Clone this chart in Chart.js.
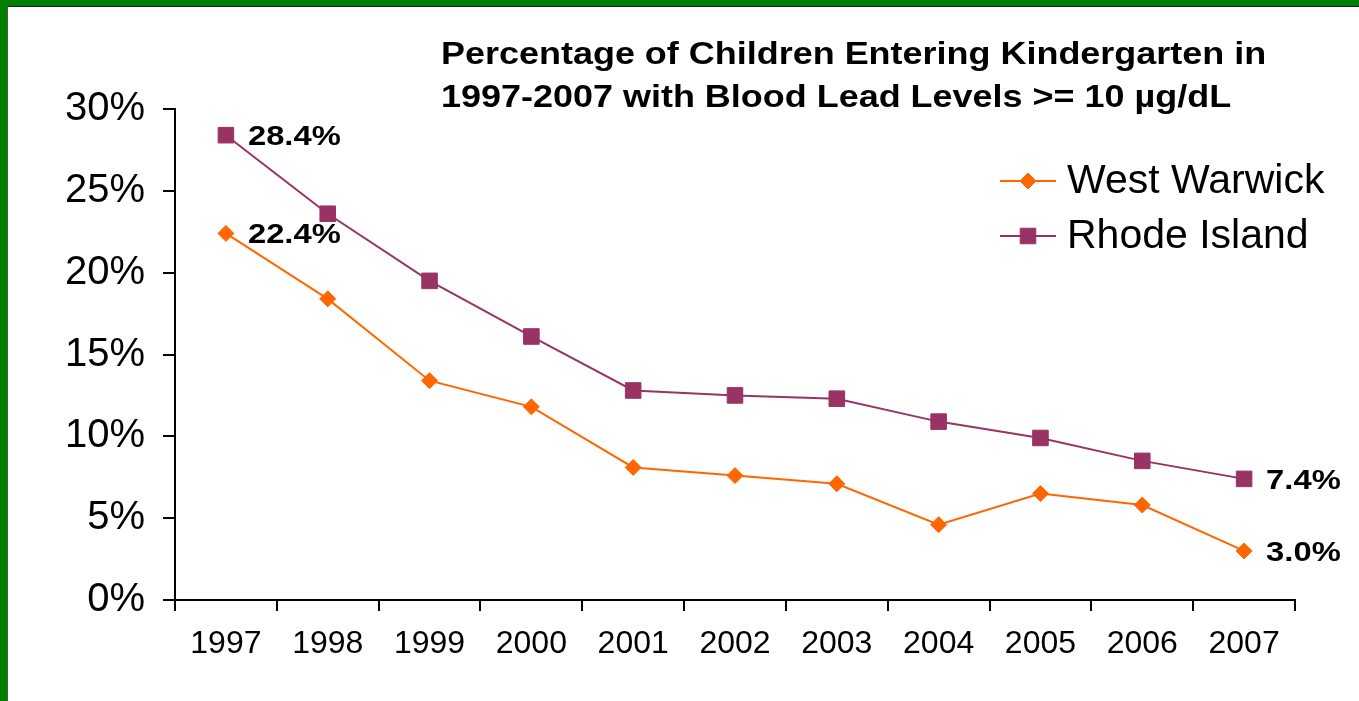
<!DOCTYPE html>
<html>
<head>
<meta charset="utf-8">
<script src="https://cdn.jsdelivr.net/npm/chart.js@4/dist/chart.umd.min.js"></script>
<style>
  html, body { margin: 0; padding: 0; background: #fff; overflow: hidden; }
  #frame {
    position: absolute; left: 0; top: 0; width: 1359px; height: 701px; box-sizing: border-box;
    border-top: 6px solid #008000; border-left: 7px solid #008000;
  }
  #inner { width: 100%; height: 100%; box-sizing: border-box; border-top: 1px solid #222; border-left: 1px solid #555; }
  #wrap { position: absolute; left: 0; top: 0; width: 1359px; height: 701px; }
</style>
</head>
<body>
<div id="frame"><div id="inner"></div></div>
<div id="wrap"><canvas id="leadChart" width="1359" height="701"></canvas></div>
<script>
const years = ['1997', '1998', '1999', '2000', '2001', '2002', '2003', '2004', '2005', '2006', '2007']
const westWarwick = [22.4, 18.4, 13.4, 11.8, 8.1, 7.6, 7.1, 4.6, 6.5, 5.8, 3.0]
const rhodeIsland = [28.4, 23.6, 19.5, 16.1, 12.8, 12.5, 12.3, 10.9, 9.9, 8.5, 7.4]
const titleLines = ['Percentage of Children Entering Kindergarten in', '1997-2007 with Blood Lead Levels >= 10 \u00b5g/dL']
const yTicks = [0, 5, 10, 15, 20, 25, 30]

const FONT = "Arial, 'Liberation Sans', sans-serif"
const orange = '#FF6600'
const purple = '#993366'

// bold text in the original is a bit wider than Arial bold
function wideText(ctx, text, x, y, sx) {
    ctx.save()
    ctx.translate(x, y)
    ctx.scale(sx, 1)
    ctx.fillText(text, 0, 0)
    ctx.restore()
}

// labels at first and last point + title + legend
const extrasPlugin = {
    id: 'extras',
    afterDatasetsDraw(chart) {
        const ctx = chart.ctx
        ctx.save()
        ctx.fillStyle = '#000'
        ctx.font = 'bold 28px ' + FONT
        ctx.textAlign = 'left'
        ctx.textBaseline = 'middle'
        chart.data.datasets.forEach((ds, i) => {
            const pts = chart.getDatasetMeta(i).data
            const last = pts.length - 1;
            [0, last].forEach(idx => {
                const p = pts[idx]
                wideText(ctx, ds.data[idx].toFixed(1) + '%', p.x + 22, p.y + 2, 1.17)
            })
        })

        ctx.font = 'bold 31px ' + FONT
        ctx.textBaseline = 'alphabetic'
        wideText(ctx, titleLines[0], 441, 64, 1.16)
        wideText(ctx, titleLines[1], 441, 107, 1.16)

        // legend
        ctx.font = '41px ' + FONT
        ctx.textBaseline = 'middle'
        const rows = [181, 236]
        chart.data.datasets.forEach((ds, i) => {
            const y = rows[i]
            ctx.strokeStyle = ds.borderColor
            ctx.lineWidth = 2
            ctx.beginPath()
            ctx.moveTo(1000, y)
            ctx.lineTo(1056, y)
            ctx.stroke()
            ctx.fillStyle = ds.pointBackgroundColor
            ctx.strokeStyle = ds.pointBorderColor
            ctx.lineWidth = 1
            Chart.helpers.drawPoint(ctx, {
                pointStyle: ds.pointStyle,
                radius: ds.pointRadius,
                borderWidth: 1
            }, 1028, y)
            ctx.fillStyle = '#000'
            ctx.fillText(ds.label, 1067, y + 1)
        })
        ctx.restore()
    }
}

const config = {
    type: 'line',
    data: {
        labels: years,
        datasets: [
            {
                label: 'West Warwick',
                data: westWarwick,
                borderColor: orange,
                backgroundColor: orange,
                pointBackgroundColor: orange,
                pointBorderColor: orange,
                borderWidth: 2,
                pointStyle: 'rectRot',
                pointRadius: 8,
                pointBorderWidth: 1
            },
            {
                label: 'Rhode Island',
                data: rhodeIsland,
                borderColor: purple,
                backgroundColor: purple,
                pointBackgroundColor: purple,
                pointBorderColor: purple,
                borderWidth: 2,
                pointStyle: 'rect',
                pointRadius: 11,
                pointBorderWidth: 1
            }
        ]
    },
    options: {
        responsive: false,
        animation: false,
        layout: { padding: { left: 0, right: 64, top: 109, bottom: 0 } },
        plugins: {
            legend: { display: false },
            title: { display: false },
            tooltip: { enabled: false }
        },
        scales: {
            x: {
                offset: true,
                grid: {
                    offset: true,
                    drawOnChartArea: false,
                    tickLength: 11,
                    color: '#000',
                    lineWidth: 2
                },
                border: { display: true, color: '#000', width: 2 },
                ticks: {
                    color: '#000',
                    font: { family: FONT, size: 32 },
                    padding: 14,
                    maxRotation: 0
                },
                afterFit: s => { s.height = 101 }
            },
            y: {
                min: 0,
                max: 30,
                afterBuildTicks: s => { s.ticks = yTicks.map(v => ({ value: v })) },
                grid: {
                    drawOnChartArea: false,
                    tickLength: 12,
                    color: '#000',
                    lineWidth: 2
                },
                border: { display: true, color: '#000', width: 2 },
                ticks: {
                    color: '#000',
                    font: { family: FONT, size: 40 },
                    padding: 18,
                    callback: v => v + '%'
                },
                afterFit: s => { s.width = 175 }
            }
        }
    },
    plugins: [extrasPlugin]
}

new Chart(document.getElementById('leadChart'), config)
</script>
</body>
</html>
